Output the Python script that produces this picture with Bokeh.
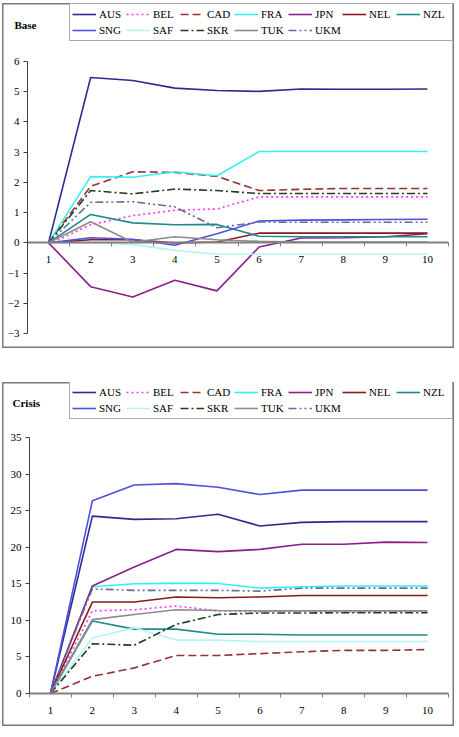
from bokeh.plotting import figure
from bokeh.models import Range1d, FixedTicker, Legend, LegendItem, Label
from bokeh.layouts import column
from bokeh.embed import file_html
from bokeh.resources import INLINE

periods = [1, 2, 3, 4, 5, 6, 7, 8, 9, 10]
period_labels = ["1", "2", "3", "4", "5", "6", "7", "8", "9", "10"]
countries = ["AUS", "BEL", "CAD", "FRA", "JPN", "NEL", "NZL", "SNG", "SAF", "SKR", "TUK", "UKM"]

# Base scenario
base_AUS = [0, 5.47, 5.37, 5.12, 5.04, 5.01, 5.09, 5.08, 5.08, 5.09]
base_BEL = [-0.05, 0.6, 0.9, 1.08, 1.12, 1.52, 1.52, 1.52, 1.52, 1.52]
base_CAD = [0, 1.87, 2.35, 2.33, 2.2, 1.73, 1.77, 1.8, 1.8, 1.8]
base_FRA = [0, 2.19, 2.17, 2.35, 2.22, 3.02, 3.02, 3.02, 3.02, 3.02]
base_JPN = [0, -1.45, -1.79, -1.24, -1.59, -0.14, 0.16, 0.17, 0.2, 0.3]
base_NEL = [0, 0.1, 0.1, 0.0, 0.03, 0.32, 0.32, 0.32, 0.32, 0.32]
base_NZL = [0, 0.94, 0.66, 0.6, 0.61, 0.22, 0.2, 0.2, 0.2, 0.2]
base_SNG = [0, 0.17, 0.12, -0.08, 0.3, 0.72, 0.75, 0.76, 0.77, 0.78]
base_SAF = [0, 0.0, -0.05, -0.25, -0.38, -0.38, -0.38, -0.38, -0.38, -0.38]
base_SKR = [0, 1.73, 1.62, 1.78, 1.73, 1.63, 1.63, 1.63, 1.63, 1.63]
base_TUK = [0, 0.7, 0.02, 0.2, 0.1, 0.05, 0.03, 0.03, 0.03, 0.03]
base_UKM = [0, 1.34, 1.36, 1.19, 0.5, 0.69, 0.68, 0.68, 0.68, 0.68]

# Crisis scenario
crisis_AUS = [0, 24.25, 23.8, 23.9, 24.5, 22.9, 23.4, 23.5, 23.5, 23.5]
crisis_BEL = [0, 11.3, 11.45, 11.95, 11.3, 11.2, 11.3, 11.2, 11.2, 11.3]
crisis_CAD = [0, 2.35, 3.5, 5.2, 5.2, 5.45, 5.7, 5.9, 5.9, 6.0]
crisis_FRA = [0, 14.6, 15.0, 15.05, 15.05, 14.4, 14.6, 14.7, 14.7, 14.7]
crisis_JPN = [0, 14.7, 17.3, 19.7, 19.4, 19.7, 20.4, 20.4, 20.7, 20.65]
crisis_NEL = [0, 12.5, 12.5, 13.2, 13.1, 13.2, 13.4, 13.4, 13.4, 13.4]
crisis_NZL = [0, 9.9, 8.8, 8.8, 8.1, 8.1, 8.0, 8.0, 8.0, 8.0]
crisis_SNG = [0, 26.35, 28.5, 28.7, 28.2, 27.2, 27.8, 27.8, 27.8, 27.8]
crisis_SAF = [0, 7.6, 9.0, 7.3, 7.3, 7.1, 7.1, 7.1, 7.1, 7.1]
crisis_SKR = [0, 6.8, 6.6, 9.45, 10.8, 11.0, 11.0, 11.05, 11.05, 11.05]
crisis_TUK = [0, 10.1, 10.8, 11.45, 11.35, 11.3, 11.3, 11.3, 11.3, 11.3]
crisis_UKM = [0, 14.3, 14.1, 14.1, 14.1, 14.0, 14.4, 14.4, 14.4, 14.4]

base_series = [base_AUS, base_BEL, base_CAD, base_FRA, base_JPN, base_NEL,
               base_NZL, base_SNG, base_SAF, base_SKR, base_TUK, base_UKM]
crisis_series = [crisis_AUS, crisis_BEL, crisis_CAD, crisis_FRA, crisis_JPN, crisis_NEL,
                 crisis_NZL, crisis_SNG, crisis_SAF, crisis_SKR, crisis_TUK, crisis_UKM]

base_ticks = [-3, -2, -1, 0, 1, 2, 3, 4, 5, 6]
crisis_ticks = [0, 5, 10, 15, 20, 25, 30, 35]

colors = ["#2b2b8f", "#ff33ff", "#9a3030", "#33f0f0", "#8a1e8a", "#8b1a1a",
          "#1f8a8a", "#4f4fe0", "#b8f2f2", "#1e3d1e", "#8c8c8c", "#6a6a99"]
dashes = ["solid", "2 3", "8 4", "solid", "solid", "solid",
          "solid", "solid", "solid", "8 3 2 3", "solid", "8 3 2 3 2 3"]

FONT = "'Liberation Serif'"
W = 452


def make_chart(series, yticks, height, frame_px, title, title_xy, legend_xy):
    # frame_px: (left, right, top, bottom) pixel positions of the plotting box in the canvas
    fl, fr, ft, fb = frame_px
    x0, x1 = 0.5, 10.5
    y0, y1 = yticks[0], yticks[-1]
    sx = (fr - fl) / (x1 - x0)
    sy = (fb - ft) / (y1 - y0)
    xmin = x0 - fl / sx
    xmax = xmin + W / sx
    ymax = y1 + ft / sy
    ymin = ymax - height / sy

    p = figure(width=W, height=height,
               x_range=Range1d(xmin, xmax), y_range=Range1d(ymin, ymax),
               output_backend="svg", toolbar_location=None,
               min_border=0)
    p.outline_line_color = "#7a7a7a"
    p.outline_line_width = 2
    p.xgrid.visible = False
    p.ygrid.visible = False
    p.background_fill_color = "white"
    p.border_fill_color = "white"

    items = []
    for name, vals, c, d in zip(countries, series, colors, dashes):
        r = p.line(periods, vals, line_color=c, line_width=1.6, line_dash=d)
        items.append(LegendItem(label=name, renderers=[r]))

    xa = p.xaxis[0]
    xa.ticker = FixedTicker(ticks=periods,
                            minor_ticks=[k + 0.5 for k in range(0, 11)])
    xa.major_label_overrides = {k: s for k, s in zip(periods, period_labels)}
    xa.bounds = (x0, x1)
    xa.fixed_location = 0
    xa.major_tick_out = 0
    xa.major_tick_in = 0
    xa.minor_tick_out = 4
    xa.minor_tick_in = 0
    xa.minor_tick_line_color = "#808080"
    xa.axis_line_color = "#808080"
    xa.axis_line_width = 2
    xa.major_label_standoff = 9
    xa.major_label_text_font = FONT
    xa.major_label_text_font_size = "11px"
    xa.major_label_text_color = "black"

    ya = p.yaxis[0]
    ya.ticker = FixedTicker(ticks=yticks, minor_ticks=[])
    ya.bounds = (y0, y1)
    ya.fixed_location = x0
    ya.major_tick_out = 4
    ya.major_tick_in = 0
    ya.major_tick_line_color = "#404040"
    ya.axis_line_color = "#404040"
    ya.axis_line_width = 1
    ya.major_label_standoff = 4
    ya.major_label_text_font = FONT
    ya.major_label_text_font_size = "11px"
    ya.major_label_text_color = "black"

    legend = Legend(items=items, location=legend_xy, orientation="horizontal",
                    ncols=7, glyph_width=24, glyph_height=16, label_height=16,
                    label_width=27, label_standoff=3, spacing=0, padding=2,
                    margin=0, border_line_color="#555555", border_line_width=1,
                    background_fill_color="white", background_fill_alpha=1,
                    label_text_font=FONT, label_text_font_size="11px",
                    label_text_color="black")
    p.add_layout(legend)

    p.add_layout(Label(x=title_xy[0], y=title_xy[1], x_units="screen", y_units="screen",
                       text=title, text_font=FONT, text_font_size="11px",
                       text_font_style="bold", text_baseline="middle",
                       text_color="black"))
    return p


p1 = make_chart(base_series, base_ticks, 345, (25, 446, 58, 330), "Base",
                (12, 324), (67, 307))
p2 = make_chart(crisis_series, crisis_ticks, 344, (27, 446, 55, 311), "Crisis",
                (10, 324), (67, 307))
p1.margin = (3, 0, 0, 2)
p2.margin = (34, 0, 0, 2)

layout = column(p1, p2, spacing=0)
open("out.html", "w").write(file_html(layout, INLINE))
